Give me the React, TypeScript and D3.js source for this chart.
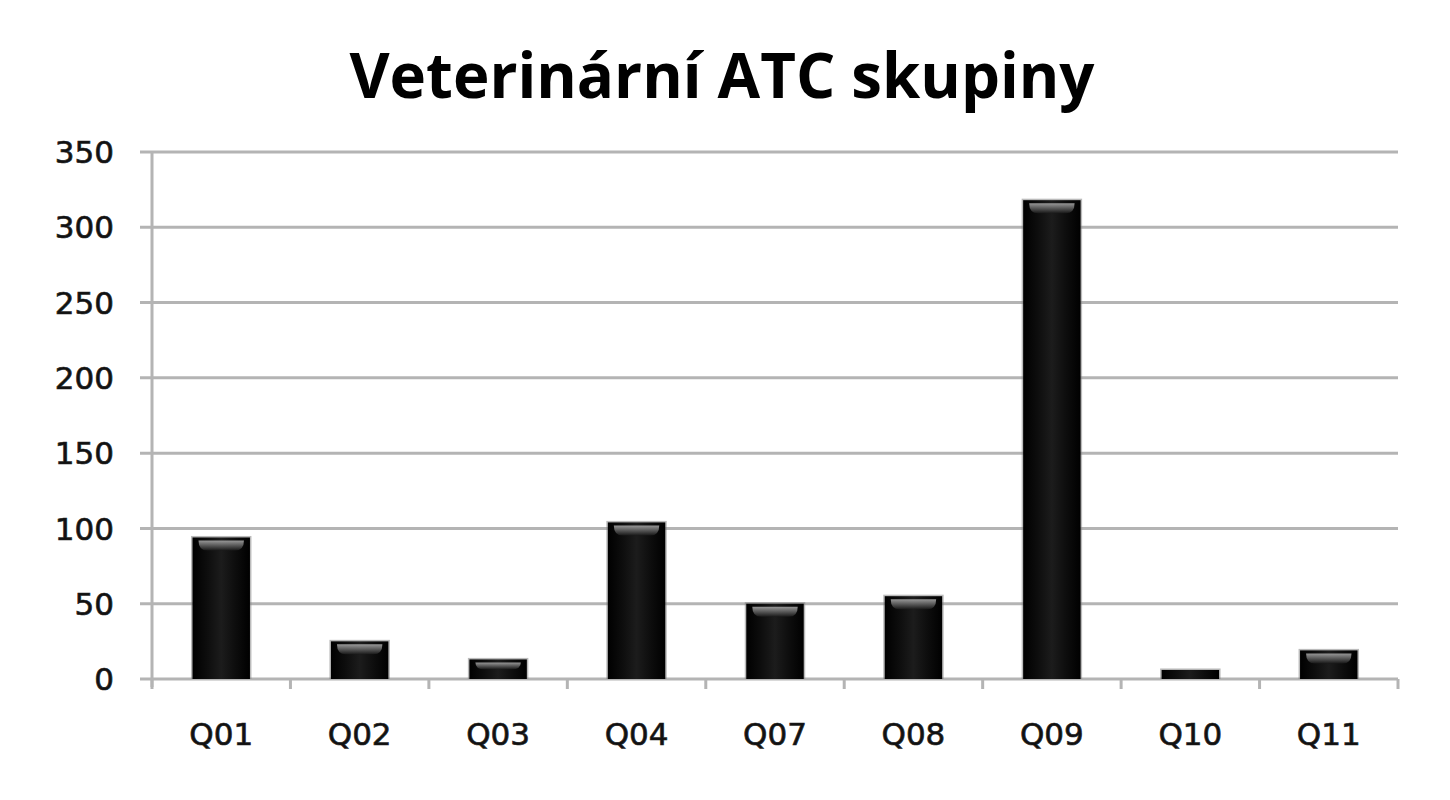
import React, { useRef, useEffect } from 'react';
import * as d3 from 'd3';

const categories = ['Q01', 'Q02', 'Q03', 'Q04', 'Q07', 'Q08', 'Q09', 'Q10', 'Q11'];
const counts = [94, 25, 13, 104, 50, 55, 318, 6, 19];
const yTicks = [0, 50, 100, 150, 200, 250, 300, 350];
const title = 'Veterinární ATC skupiny';

const width = 1450;
const height = 800;

const App: React.FC = () => {
  const svgRef = useRef<SVGSVGElement>(null);

  useEffect(() => {
    document.body.style.margin = '0';
    if (!svgRef.current) return;

    const svg = d3.select(svgRef.current);
    svg.selectAll('*').remove();

    const margin = { top: 152, right: 52, bottom: 121, left: 152 };
    const gridColor = '#b4b4b4';

    const x = d3
      .scaleBand<string>()
      .domain(categories)
      .range([margin.left, width - margin.right])
      .paddingInner(0.585)
      .paddingOuter(0.2925);

    const y = d3
      .scaleLinear()
      .domain([0, 350])
      .range([height - margin.bottom, margin.top]);

    // gradients for the glossy black bars
    const defs = svg.append('defs');
    const body = defs
      .append('linearGradient')
      .attr('id', 'barBody')
      .attr('x1', '0%')
      .attr('x2', '100%');
    body.append('stop').attr('offset', '0%').attr('stop-color', '#000');
    body.append('stop').attr('offset', '25%').attr('stop-color', '#0d0d0d');
    body.append('stop').attr('offset', '50%').attr('stop-color', '#1c1c1c');
    body.append('stop').attr('offset', '75%').attr('stop-color', '#0d0d0d');
    body.append('stop').attr('offset', '100%').attr('stop-color', '#000');

    const gloss = defs
      .append('linearGradient')
      .attr('id', 'barGloss')
      .attr('x1', '0%')
      .attr('x2', '0%')
      .attr('y1', '0%')
      .attr('y2', '100%');
    gloss.append('stop').attr('offset', '0%').attr('stop-color', '#b0b0b0');
    gloss.append('stop').attr('offset', '100%').attr('stop-color', '#1a1a1a');

    // Title
    svg
      .append('text')
      .attr('x', 722)
      .attr('y', 98)
      .attr('text-anchor', 'middle')
      .attr('font-family', 'Open Sans, sans-serif')
      .attr('font-weight', 'bold')
      .attr('font-size', 62)
      .attr('textLength', 745)
      .attr('lengthAdjust', 'spacingAndGlyphs')
      .attr('fill', '#000')
      .text(title);

    // Gridlines
    svg
      .append('g')
      .selectAll('line')
      .data(yTicks)
      .enter()
      .append('line')
      .attr('x1', margin.left - 12)
      .attr('x2', width - margin.right)
      .attr('y1', (d) => y(d))
      .attr('y2', (d) => y(d))
      .attr('stroke', gridColor)
      .attr('stroke-width', 3);

    // Y axis line
    svg
      .append('line')
      .attr('x1', margin.left)
      .attr('x2', margin.left)
      .attr('y1', y(350))
      .attr('y2', y(0) + 8)
      .attr('stroke', gridColor)
      .attr('stroke-width', 3);

    // X axis category ticks
    const bounds = d3.range(categories.length + 1).map((i) => margin.left + i * x.step());
    svg
      .append('g')
      .selectAll('line')
      .data(bounds)
      .enter()
      .append('line')
      .attr('x1', (d) => d)
      .attr('x2', (d) => d)
      .attr('y1', y(0))
      .attr('y2', y(0) + 10)
      .attr('stroke', gridColor)
      .attr('stroke-width', 3);

    // Y tick labels
    svg
      .append('g')
      .selectAll('text')
      .data(yTicks)
      .enter()
      .append('text')
      .attr('x', 114)
      .attr('y', (d) => y(d))
      .attr('dy', '0.36em')
      .attr('text-anchor', 'end')
      .attr('font-family', 'DejaVu Sans, sans-serif')
      .attr('font-size', 31)
      .attr('fill', '#111')
      .attr('stroke', '#222')
      .attr('stroke-width', 0.7)
      .text((d) => d);

    // X labels
    svg
      .append('g')
      .selectAll('text')
      .data(categories)
      .enter()
      .append('text')
      .attr('x', (d) => (x(d) as number) + x.bandwidth() / 2)
      .attr('y', 745)
      .attr('text-anchor', 'middle')
      .attr('font-family', 'DejaVu Sans, sans-serif')
      .attr('font-size', 31)
      .attr('fill', '#111')
      .attr('stroke', '#222')
      .attr('stroke-width', 0.7)
      .text((d) => d);

    // Bars
    const bars = svg
      .append('g')
      .selectAll('g')
      .data(categories.map((c, i) => ({ c, v: counts[i] })))
      .enter()
      .append('g');

    bars
      .append('rect')
      .attr('x', (d) => (x(d.c) as number) - 1.5)
      .attr('y', (d) => y(d.v) - 1.5)
      .attr('width', x.bandwidth() + 3)
      .attr('height', (d) => y(0) - y(d.v) + 1.5)
      .attr('fill', '#777')
      .attr('opacity', 0.5);

    bars
      .append('rect')
      .attr('x', (d) => x(d.c) as number)
      .attr('y', (d) => y(d.v))
      .attr('width', x.bandwidth())
      .attr('height', (d) => y(0) - y(d.v))
      .attr('fill', 'url(#barBody)');

    // glossy highlight near the top
    bars
      .filter((d) => y(0) - y(d.v) > 12)
      .append('path')
      .attr('d', (d) => {
        const x0 = (x(d.c) as number) + 6;
        const x1 = (x(d.c) as number) + x.bandwidth() - 6;
        const t = y(d.v) + 3;
        const h = Math.min(10, (y(0) - y(d.v)) * 0.35);
        return `M${x0},${t} L${x1},${t} Q${x1},${t + h} ${x1 - 9},${t + h} L${x0 + 9},${t + h} Q${x0},${t + h} ${x0},${t} Z`;
      })
      .attr('fill', 'url(#barGloss)')
      .attr('opacity', 0.85);
  }, []);

  return (
    <div style={{ width, height, background: '#fff' }}>
      <svg ref={svgRef} width={width} height={height} style={{ display: 'block' }} />
    </div>
  );
};

export default App;
